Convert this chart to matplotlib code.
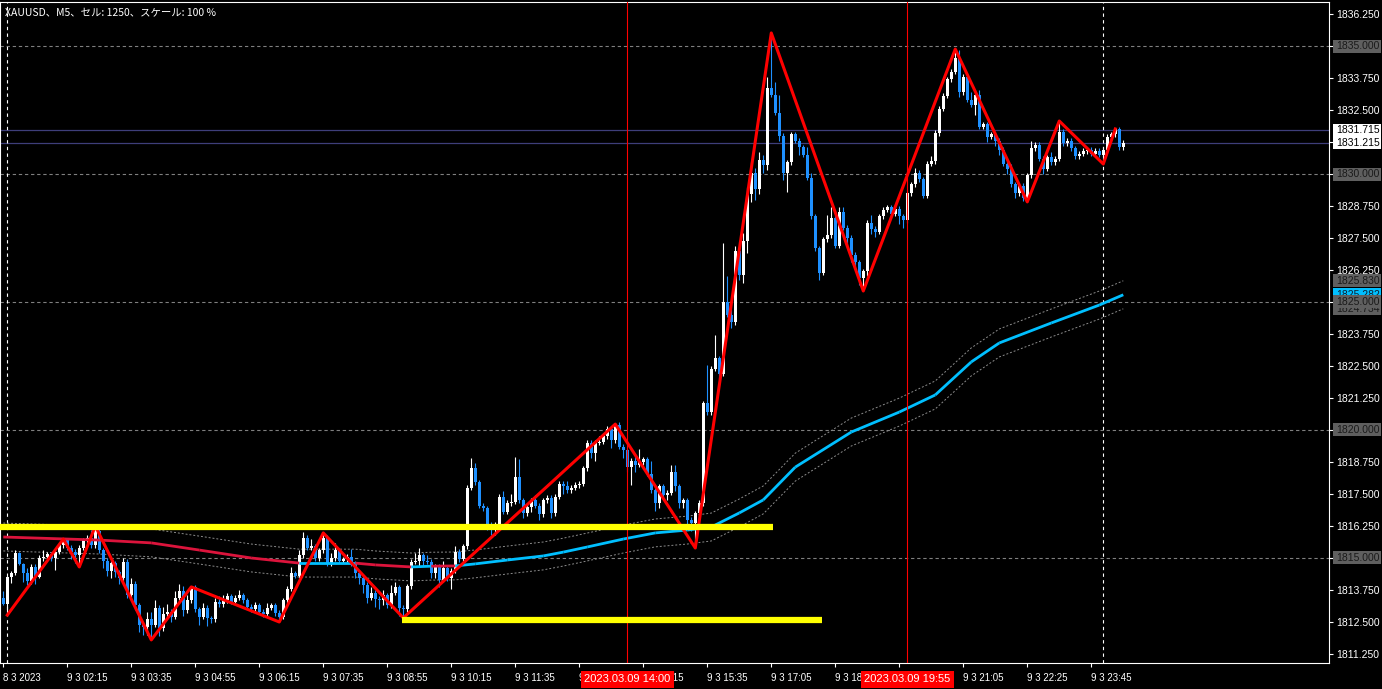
import numpy as np
import matplotlib.pyplot as plt
from matplotlib.patches import Rectangle
from matplotlib.transforms import blended_transform_factory

plt.rcParams["font.family"] = ["Liberation Sans", "DejaVu Sans"]

# ---- data (XAUUSD M5, bar index 0 = first bar on screen) ----
first_open = 1813.45
close = [
    1813.20, 1814.26, 1814.40, 1815.20, 1814.77, 1814.40, 1814.10, 1814.65, 1814.25, 1815.00,
    1815.05, 1815.15, 1815.00, 1815.25, 1815.50, 1815.70, 1815.40, 1815.25, 1815.10, 1815.40,
    1815.70, 1815.80, 1815.50, 1816.05, 1815.30, 1814.90, 1814.50, 1814.80, 1814.45, 1814.20,
    1814.85, 1813.55, 1814.00, 1813.15, 1812.40, 1812.30, 1812.60, 1812.40, 1813.05, 1812.25,
    1812.80, 1812.90, 1812.70, 1813.45, 1813.70, 1812.95, 1813.35, 1813.85, 1813.00, 1812.70,
    1813.05, 1812.65, 1812.60, 1813.30, 1813.20, 1813.35, 1813.50, 1813.30, 1813.45, 1813.55,
    1813.35, 1813.10, 1813.00, 1813.15, 1812.90, 1812.80, 1813.05, 1813.15, 1812.85, 1812.70,
    1813.35, 1813.80, 1814.40, 1814.30, 1815.10, 1815.80, 1815.40, 1815.45, 1815.00, 1815.30,
    1815.80, 1814.80, 1815.00, 1815.30, 1814.90, 1814.95, 1815.05, 1814.80, 1814.40, 1814.20,
    1813.95, 1813.45, 1813.65, 1813.40, 1813.35, 1813.55, 1813.15, 1813.65, 1813.85, 1813.05,
    1813.00, 1813.90, 1814.85, 1814.90, 1815.10, 1814.90, 1814.85, 1814.40, 1814.65, 1814.15,
    1814.60, 1814.20, 1814.50, 1815.25, 1814.95, 1815.45, 1817.75, 1818.50, 1817.95, 1817.05,
    1816.95, 1816.30, 1816.20, 1816.30, 1817.40, 1816.80, 1817.15, 1817.20, 1818.15, 1817.25,
    1816.75, 1817.00, 1817.25, 1817.05, 1816.70, 1817.25, 1817.35, 1816.75, 1817.40, 1817.90,
    1817.80, 1817.65, 1817.75, 1817.85, 1817.90, 1818.50, 1819.50, 1819.10, 1819.50, 1819.55,
    1819.75, 1820.05, 1819.60, 1820.20, 1819.35, 1819.20, 1818.55, 1818.80, 1818.65, 1818.75,
    1818.85, 1818.30, 1817.65, 1817.15, 1817.80, 1817.45, 1817.55, 1818.35, 1817.80, 1817.15,
    1817.25, 1816.50, 1816.35, 1816.75, 1817.15, 1821.05, 1820.70, 1822.40, 1822.80, 1822.20,
    1825.00, 1824.50, 1824.20, 1827.00, 1826.05, 1827.40, 1829.20, 1830.05, 1829.40, 1830.55,
    1830.35, 1833.35, 1833.10, 1832.40, 1831.50, 1830.05, 1830.45, 1831.55, 1831.30, 1831.05,
    1830.75, 1829.85, 1828.35, 1827.10, 1826.15, 1827.45, 1827.60, 1828.30, 1827.20, 1828.50,
    1827.90, 1827.50, 1826.85, 1826.55, 1825.95, 1826.20, 1828.10, 1827.85, 1827.75, 1828.35,
    1828.60, 1828.70, 1828.45, 1828.65, 1828.35, 1828.20, 1829.25, 1829.60, 1830.05, 1829.80,
    1829.15, 1830.40, 1830.50, 1831.60, 1832.55, 1833.05, 1833.70, 1834.00, 1834.55, 1833.20,
    1833.80, 1832.90, 1832.70, 1833.10, 1831.85, 1831.95, 1831.45, 1831.55, 1831.30, 1830.95,
    1830.40, 1830.20, 1829.60, 1829.25, 1829.55, 1829.05, 1829.95, 1831.00, 1831.15, 1830.60,
    1830.20, 1830.65, 1830.45, 1830.60, 1831.65, 1831.20, 1831.30, 1831.00, 1830.70, 1830.80,
    1830.90, 1830.95, 1830.80, 1830.90, 1830.75, 1830.95, 1831.45, 1831.55, 1831.75, 1831.05, 1831.215,
]
# wick length above / below the body
wick_up = [
    .25, .05, .10, .10, .05, .05, .20, .10, .10, .10,
    .25, .10, .10, .10, .10, .04, .10, .10, .10, .10,
    .10, .10, .30, .20, .10, .10, .10, .10, .10, .10,
    .15, .10, .20, .10, .10, .10, .30, .30, .30, .10,
    .30, .30, .10, .25, .30, .20, .20, .02, .10, .10,
    .20, .10, .10, .15, .20, .20, .15, .10, .10, .20,
    .10, .10, .10, .15, .10, .10, .20, .10, .10, .10,
    .10, .10, .25, .10, .20, .20, .10, .30, .10, .10,
    .18, .10, .20, .30, .10, .10, .10, .30, .10, .10,
    .10, .10, .20, .10, .10, .20, .10, .30, .20, .10,
    .10, .10, .10, .30, .30, .10, .20, .10, .10, .10,
    .30, .10, .10, .20, .10, .10, .10, .40, .20, .10,
    .10, .10, .10, .10, .10, .20, .10, .30, .80, .70,
    .10, .10, .10, .20, .10, .10, .10, .10, .10, .10,
    .10, .20, .10, .10, .10, .10, .10, .10, .10, .20,
    .10, .10, .10, .03, .10, .10, .10, .10, .20, .50,
    .10, .10, .50, .10, .10, .10, .10, .30, .30, .10,
    .10, .10, .10, .10, .10, .10, 1.50, .10, .90, .10,
    2.30, 1.00, .50, .20, .40, .30, .30, .40, .20, .30,
    .20, .45, 2.16, .50, .70, .10, .10, .10, .10, .10,
    .10, .30, .20, .10, .10, .10, .80, .40, .10, .20,
    .20, .10, .10, .10, .10, .10, .10, .30, .10, .10,
    .10, .10, .10, .10, .10, .10, .10, .10, .20, .10,
    .10, .10, .20, .10, .10, .10, .10, .10, .33, .30,
    .10, .10, .30, .10, .20, .10, .10, .10, .10, .10,
    .10, .10, .20, .10, .10, .10, .10, .30, .10, .10,
    .10, .10, .20, .10, .42, .10, .10, .10, .10, .10,
    .10, .10, .10, .10, .10, .10, .10, .10, .01, .10, .10,
]
wick_dn = [
    .05, .43, .25, .05, .05, .35, .15, .10, .25, .05,
    .10, .10, .10, .45, .10, .10, .10, .30, .30, .45,
    .10, .10, .10, .10, .10, .30, .20, .30, .20, .20,
    .10, .10, .10, .20, .30, .30, .30, .60, .10, .30,
    .10, .20, .20, .10, .10, .20, .10, .10, .10, .30,
    .10, .30, .15, .10, .10, .10, .10, .10, .10, .10,
    .10, .10, .10, .10, .10, .10, .10, .10, .10, .20,
    .10, .10, .10, .10, .10, .10, .10, .10, .10, .10,
    .10, .10, .10, .10, .10, .10, .10, .10, .20, .20,
    .30, .20, .10, .30, .35, .20, .10, .10, .10, .30,
    .34, .10, .10, .10, .20, .20, .10, .20, .20, .30,
    .10, .10, .40, .10, .10, .20, .10, .10, .10, .10,
    .10, .20, .30, .30, .10, .10, .10, .10, .10, .10,
    .20, .10, .20, .10, .20, .10, .10, .20, .10, .10,
    .30, .10, .10, .10, .10, .10, .10, .20, .30, .10,
    .10, .10, .30, .10, .10, .30, .20, .70, .30, .10,
    .10, .10, .10, .30, .20, .20, .20, .10, .20, .20,
    .20, .20, .30, .96, .20, .10, .10, .10, .10, .20,
    .10, .10, .20, .10, .20, .30, .50, .30, .40, .20,
    .30, .20, .10, .10, .20, .30, .75, .10, .10, .30,
    .10, .10, .10, .10, .30, .10, .10, .10, .10, .10,
    .10, .30, .30, .20, .30, .52, .20, .20, .20, .10,
    .10, .10, .10, .10, .30, .30, .10, .10, .10, .10,
    .10, .10, .10, .10, .10, .10, .10, .10, .10, .20,
    .10, .10, .10, .40, .10, .10, .20, .10, .20, .20,
    .10, .20, .10, .20, .10, .10, .14, .10, .10, .10,
    .20, .10, .10, .10, .10, .10, .10, .10, .10, .10,
    .10, .10, .10, .10, .10, .36, .10, .10, .10, .10, .10,
]

# ZigZag pivots
zz_bar = [1, 15, 19, 23, 37, 47, 69, 80, 100, 153, 173, 192, 215, 238, 256, 264, 275, 278]
zz_price = [1812.77, 1815.74, 1814.65, 1816.25, 1811.80, 1813.87, 1812.50, 1815.98, 1812.66,
            1820.23, 1815.39, 1835.51, 1825.43, 1834.88, 1828.91, 1832.07, 1830.39, 1831.76]

# moving average (read at these bars) and its falling stretches
ma_bar = [0, 24, 37, 49, 62, 74, 88, 93, 102, 107, 113, 118, 126, 135, 140, 146, 155, 163,
          171, 177, 184, 190, 198, 212, 224, 233, 242, 249, 262, 274, 280]
ma_val = [1815.82, 1815.70, 1815.59, 1815.31, 1815.00, 1814.80, 1814.80, 1814.73, 1814.65,
          1814.68, 1814.69, 1814.77, 1814.92, 1815.08, 1815.23, 1815.43, 1815.74, 1815.98,
          1816.09, 1816.21, 1816.76, 1817.27, 1818.55, 1819.92, 1820.70, 1821.37, 1822.66,
          1823.40, 1824.18, 1824.88, 1825.282]
ma_down = [(0, 74), (88, 102), (107, 113)]
env_dev = 0.0003  # envelope deviation (0.03 %)

levels = [1835.0, 1830.0, 1825.0, 1820.0, 1815.0]
bid, ask = 1831.215, 1831.715
# yellow trend lines: (from bar, to bar, price)
yellow = [(-1, 192.4, 1816.21), (99.7, 204.7, 1812.58)]
day_sep = [1, 275]
marks = [(156, "2023.03.09 14:00"), (226, "2023.03.09 19:55")]

tick_bar = list(range(0, 273, 16))
tick_lab = ["8 3 2023", "9 3 02:15", "9 3 03:35", "9 3 04:55", "9 3 06:15", "9 3 07:35",
            "9 3 08:55", "9 3 10:15", "9 3 11:35", "9 3 12:55", "9 3 14:15", "9 3 15:35",
            "9 3 17:05", "9 3 18:25", "9 3 19:45", "9 3 21:05", "9 3 22:25", "9 3 23:45"]

# ---- figure ----
W, H = 1382, 689
fig = plt.figure(figsize=(W / 100, H / 100), dpi=100, facecolor="black")
ax = fig.add_axes([0, 26 / H, 1329 / W, 661 / H], facecolor="black")
ax.set_autoscale_on(False)
y0, y1 = 1810.898, 1836.719
ax.set_xlim(-0.825, 331.43)
ax.set_ylim(y0, y1)
ppp = 661 / (y1 - y0)  # pixels per price unit

close = np.array(close)
opens = np.r_[first_open, close[:-1]]
top = np.maximum(opens, close)
bot = np.minimum(opens, close)
highs = top + np.array(wick_up)
lows = bot - np.array(wick_dn)
x = np.arange(len(close))
cols = np.where(close >= opens, "#ffffff", "#1e90ff")

for lv in levels:
    ax.axhline(lv, color="#7f7f7f", lw=0.8, ls=(0, (3, 2.5)), zorder=1)
ax.axhline(ask, color="#3e3e7a", lw=0.9, zorder=1)
ax.axhline(bid, color="#3e3e7a", lw=0.9, zorder=1)
for b in day_sep:
    ax.axvline(b, color="white", lw=0.8, ls=(0, (3, 3)), zorder=1)

ma_arr = np.array(ma_val)
ax.plot(ma_bar, ma_arr * (1 + env_dev), color="#8c8c8c", lw=0.7, ls=(0, (2, 2)), zorder=1.5)
ax.plot(ma_bar, ma_arr * (1 - env_dev), color="#8c8c8c", lw=0.7, ls=(0, (2, 2)), zorder=1.5)

ax.vlines(x, lows, highs, colors=cols, lw=0.8, zorder=2)
ax.bar(x, np.maximum(top - bot, 0.03), bottom=bot, width=0.72, color=cols, linewidth=0, zorder=2.1)

for k in range(len(ma_bar) - 1):
    down = any(a <= ma_bar[k] < b for a, b in ma_down)
    ax.plot(ma_bar[k:k + 2], ma_val[k:k + 2], color="#dc143c" if down else "#00bfff",
            lw=2.0, solid_capstyle="butt", zorder=3)

for b, _ in marks:
    ax.axvline(b, color="#ff0000", lw=0.8, zorder=3.5)
ax.plot(zz_bar, zz_price, color="red", lw=2.2, zorder=4)
for xa, xb, p in yellow:
    ax.hlines(p, xa, xb, color="yellow", lw=4.5, zorder=5)

for s in ax.spines.values():
    s.set_color("white")
    s.set_linewidth(0.8)

ax.yaxis.tick_right()
ax.set_yticks(np.arange(1811.25, 1836.3, 1.25))
ax.yaxis.set_major_formatter(plt.FormatStrFormatter("%.3f"))
ax.tick_params(axis="y", colors="white", labelsize=7.5, length=3, width=0.8, pad=2.5)
ax.set_xticks(tick_bar)
ax.set_xticklabels(tick_lab, ha="left")
ax.tick_params(axis="x", colors="white", labelsize=7, length=3, width=0.8, pad=4)

# price labels on the right scale
tr_r = blended_transform_factory(fig.transFigure, ax.transData)


def price_box(p, txt, fc, tc, z):
    ax.add_patch(Rectangle((1333 / W, p - 6.5 / ppp), 48 / W, 13 / ppp, transform=tr_r,
                           facecolor=fc, edgecolor="none", clip_on=False, zorder=z))
    ax.text(1336 / W, p, txt, transform=tr_r, color=tc, fontsize=7.5, va="center",
            ha="left", clip_on=False, zorder=z + 0.1)


price_box(ma_val[-1], f"{ma_val[-1]:.3f}", "#00bfff", "#102030", 6)
price_box(ma_val[-1] * (1 - env_dev), f"{ma_val[-1] * (1 - env_dev):.3f}", "#5f5f5f", "#1a1a1a", 6.2)
price_box(ma_val[-1] * (1 + env_dev), f"{ma_val[-1] * (1 + env_dev):.3f}", "#5f5f5f", "#1a1a1a", 6.4)
for lv in levels:
    price_box(lv, f"{lv:.3f}", "#5f5f5f", "#1a1a1a", 6.6)
price_box(ask, f"{ask:.3f}", "white", "black", 7)
price_box(bid, f"{bid:.3f}", "white", "black", 7.2)

# red time markers under the axis (they cover the tick labels beneath, as in the terminal)
tr_b = blended_transform_factory(ax.transData, fig.transFigure)
for b, txt in marks:
    ax.text(b, 9.5 / H, txt, transform=tr_b, color="white", fontsize=8, ha="center",
            va="center", clip_on=False, zorder=10,
            bbox=dict(facecolor="#ff0000", edgecolor="none", boxstyle="square,pad=0.32"))

fig.text(5 / W, 1 - 12 / H, "XAUUSD、M5、セル: 1250、スケール: 100 %", color="white",
         fontsize=7.5, va="center", family=["Noto Sans CJK JP", "DejaVu Sans"])

fig.savefig("out.png", dpi=100, facecolor="black")
